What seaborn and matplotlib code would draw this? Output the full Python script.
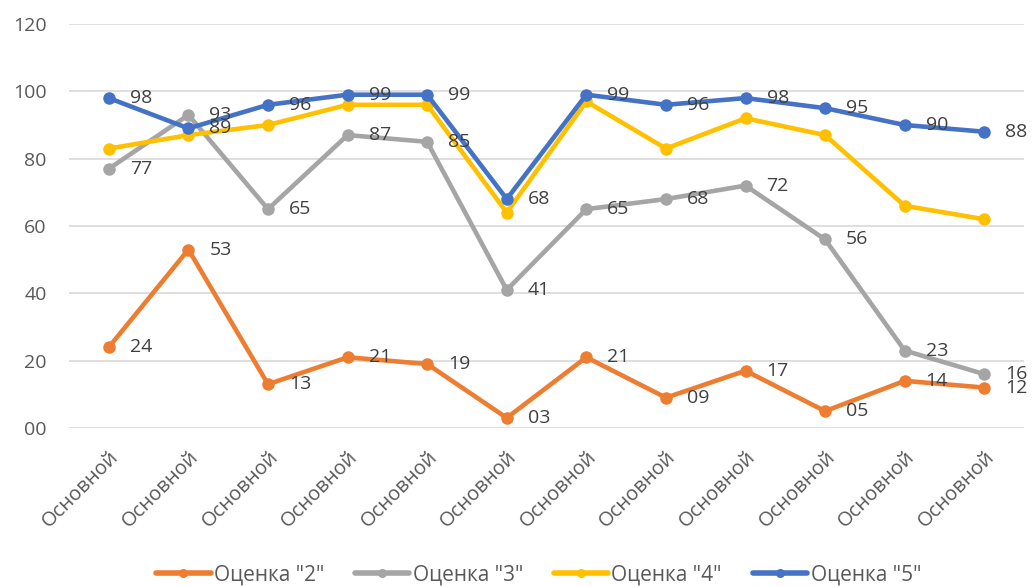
import matplotlib
matplotlib.use("Agg")
import matplotlib.pyplot as plt
from matplotlib.lines import Line2D
import seaborn as sns
import pandas as pd
import numpy as np

# Данные по оценкам
categories = ["Основной"] * 12
series_names = ['Оценка "2"', 'Оценка "3"', 'Оценка "4"', 'Оценка "5"']
grade2 = [24, 53, 13, 21, 19, 3, 21, 9, 17, 5, 14, 12]
grade3 = [77, 93, 65, 87, 85, 41, 65, 68, 72, 56, 23, 16]
grade4 = [83, 87, 90, 96, 96, 64, 97, 83, 92, 87, 66, 62]
grade5 = [98, 89, 96, 99, 99, 68, 99, 96, 98, 95, 90, 88]
y_ticks = [0, 20, 40, 60, 80, 100, 120]

colors = ["#ED7D31", "#A5A5A5", "#FFC000", "#4472C4"]
labelled = {'Оценка "2"', 'Оценка "3"', 'Оценка "5"'}

sns.set_theme(style="white")
plt.rcParams["font.family"] = ["Open Sans", "DejaVu Sans"]

values = [grade2, grade3, grade4, grade5]
df = pd.DataFrame({
    "idx": np.tile(np.arange(len(categories)), len(series_names)),
    "value": np.concatenate(values),
    "series": np.repeat(series_names, len(categories)),
})

fig = plt.figure(figsize=(10.32, 5.87), dpi=100)
ax = fig.add_axes([0.0669, 0.2709, 0.9254, 0.6882])

sns.lineplot(data=df, x="idx", y="value", hue="series", hue_order=series_names,
             palette=colors, marker="o", markersize=9, markeredgewidth=0,
             linewidth=3.3, ax=ax, legend=False)

# подписи значений справа от точек
for name, vals in zip(series_names, values):
    if name not in labelled:
        continue
    for i, v in enumerate(vals):
        ax.annotate(f"{v:02d}", xy=(i, v), xytext=(21, 0),
                    textcoords="offset pixels", ha="left", va="center",
                    fontsize=14, color="#404040", annotation_clip=False)

ax.set_xlim(-0.5, len(categories) - 0.5)
ax.set_ylim(0, 120)
ax.set_yticks(y_ticks)
ax.set_yticklabels([f"{t:02d}" for t in y_ticks], fontsize=14, color="#595959")
ax.set_xticks(range(len(categories)))
ax.set_xticklabels(categories, rotation=45, ha="right", va="top",
                   rotation_mode="anchor", fontsize=14.5, color="#595959")
ax.tick_params(axis="both", length=0)
ax.tick_params(axis="y", pad=16)
ax.tick_params(axis="x", pad=14)
ax.set_xlabel("")
ax.set_ylabel("")
ax.grid(axis="y", color="#D9D9D9", linewidth=1.2)
ax.set_axisbelow(True)
for s in ax.spines.values():
    s.set_visible(False)

handles = [Line2D([], [], color=c, linewidth=4, marker="o", markersize=6.5,
                  markeredgewidth=0) for c in colors]
ax.legend(handles, series_names, loc="center", bbox_to_anchor=(0.522, 0.02),
          bbox_transform=fig.transFigure, ncol=4, frameon=False,
          fontsize=15, handlelength=2.6, handletextpad=0.15, columnspacing=1.5,
          labelcolor="#595959")

fig.savefig("out.png", dpi=100)
